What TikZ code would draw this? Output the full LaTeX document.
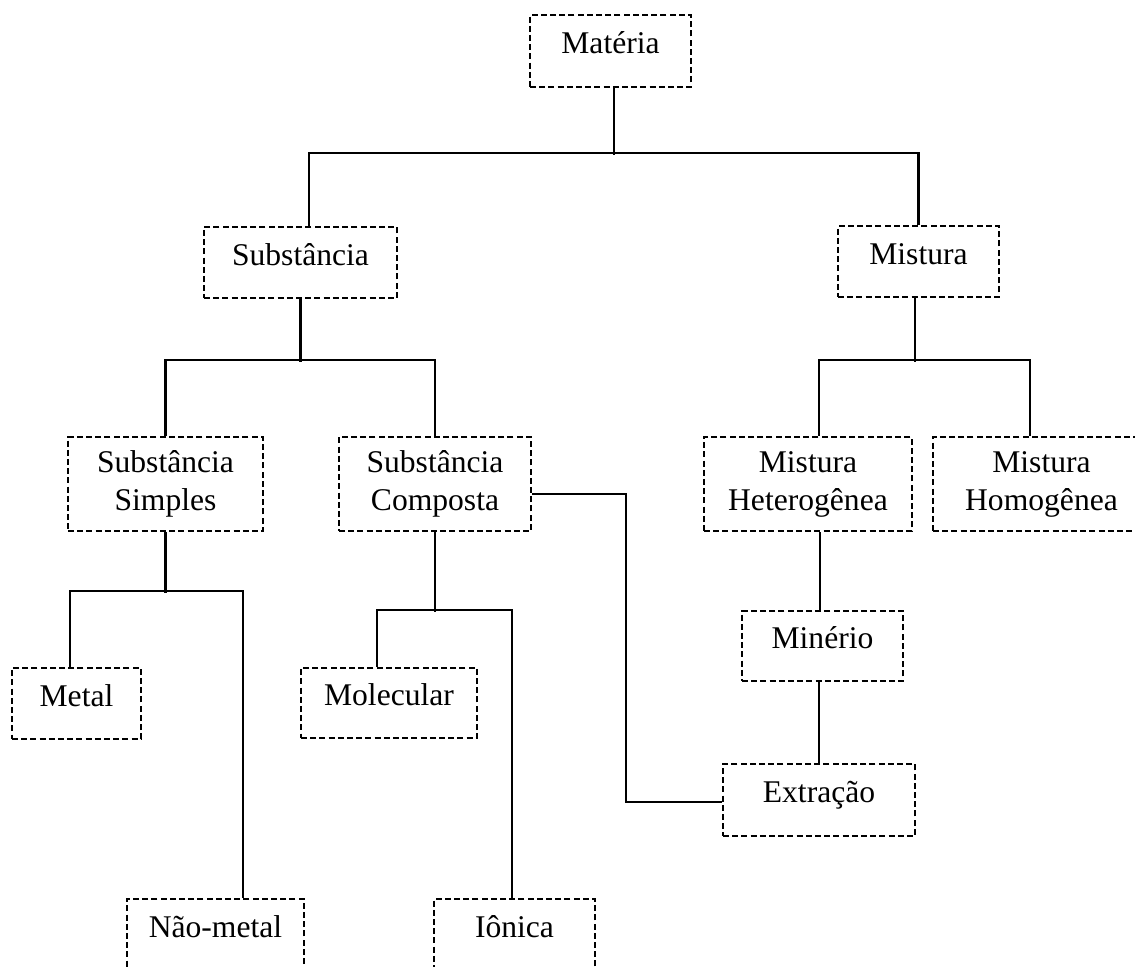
\documentclass[tikz,border=0pt]{standalone}
\usepackage{fontspec}
\setmainfont{Liberation Serif}
\usetikzlibrary{calc}
\tikzset{
  box/.style={draw, dash pattern=on 3pt off 1.6pt, line width=1pt, inner sep=0pt,
    align=center, font=\fontsize{15.8}{19}\selectfont},
  single/.style={text height=0.75em, text depth=0.48em},
  conn/.style={line width=1.05pt}
}
\begin{document}
\begin{tikzpicture}[x=0.5pt, y=-0.5pt]
\useasboundingbox (0,0) rectangle (1135,967);
\clip (0,0) rectangle (1135,967);
% nodes
\node[box, single, minimum width=80.5pt, minimum height=36pt] (mat) at (610.5,51) {Matéria};
\node[box, single, minimum width=96.5pt, minimum height=35.5pt] (sub) at (300.5,262.5) {Substância};
\node[box, single, minimum width=80.5pt, minimum height=35.5pt] (mis) at (918.5,261.5) {Mistura};
\node[box, minimum width=97.5pt, minimum height=47pt] (sim) at (165.5,484) {Substância\\Simples};
\node[box, minimum width=96pt, minimum height=47pt] (com) at (435,484) {Substância\\Composta};
\node[box, minimum width=104pt, minimum height=47pt] (het) at (808,484) {Mistura\\Heterogênea};
\node[box, minimum width=108.5pt, minimum height=47pt] (hom) at (1041.5,484) {Mistura\\Homogênea};
\node[box, single, minimum width=80.5pt, minimum height=35pt] (min) at (822.5,646) {Minério};
\node[box, single, minimum width=96pt, minimum height=36pt] (ext) at (819,800) {Extração};
\node[box, single, minimum width=64.5pt, minimum height=35.5pt] (met) at (76.5,703.5) {Metal};
\node[box, single, minimum width=88pt, minimum height=35pt] (mol) at (389,703) {Molecular};
\node[box, single, minimum width=88.5pt, minimum height=36pt] (nao) at (215.5,935) {Não-metal};
\node[box, single, minimum width=80.5pt, minimum height=36pt] (ion) at (514.5,935) {Iônica};
% connectors
\draw[conn] ($(mat.south)+(3.5,0)$) -- ++(0,67);
\draw[conn] ($(sub.north)+(8.5,0)$) -- ++(0,-73) -| (mis.north);
\draw[conn] (sub.south) -- ++(0,63);
\draw[conn] (sim.north) -- ++(0,-76) -| (com.north);
\draw[conn] ($(mis.south)+(-3.5,0)$) -- ++(0,64);
\draw[conn] ($(het.north)+(11,0)$) -- ++(0,-76) -| ($(hom.north)+(-11.5,0)$);
\draw[conn] (sim.south) -- ++(0,61);
\draw[conn] ($(met.north)+(-6.5,0)$) -- ++(0,-76) -| ($(nao.north)+(27.5,0)$);
\draw[conn] (com.south) -- ++(0,80);
\draw[conn] ($(mol.north)+(-12,0)$) -- ++(0,-57) -| ($(ion.north)+(-2.5,0)$);
\draw[conn] ($(het.south)+(12,0)$) -- ($(min.north)+(-2.5,0)$);
\draw[conn] ($(min.south)+(-3.5,0)$) -- (ext.north);
\coordinate (bend) at ($(ext.west)+(-96,2)$);
\draw[conn] ($(com.east)+(0,10)$) -| (bend) -- ($(ext.west)+(0,2)$);
\end{tikzpicture}
\end{document}
